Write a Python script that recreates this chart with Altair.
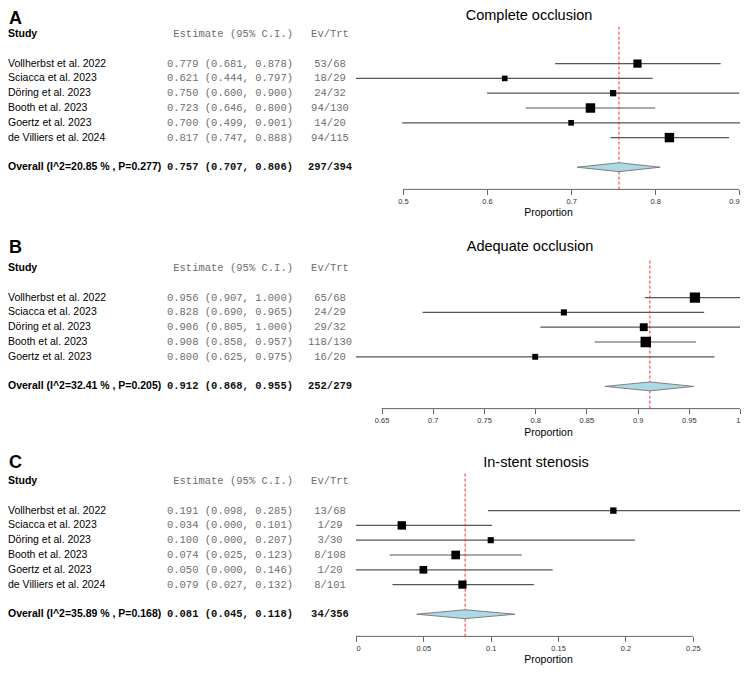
import altair as alt
import pandas as pd

# ---------------- data ----------------
studies_A = ["Vollherbst et al. 2022", "Sciacca et al. 2023", "Döring et al. 2023",
             "Booth et al. 2023", "Goertz et al. 2023", "de Villiers et al. 2024"]
est_A = [0.779, 0.621, 0.750, 0.723, 0.700, 0.817]
lo_A = [0.681, 0.444, 0.600, 0.646, 0.499, 0.747]
hi_A = [0.878, 0.797, 0.900, 0.800, 0.901, 0.888]
ev_A = ["53/68", "18/29", "24/32", "94/130", "14/20", "94/115"]
w_A = [19.3, 9.2, 11.4, 25.5, 9.2, 25.4]
overall_A = ["Overall (I^2=20.85 % , P=0.277)", 0.757, 0.707, 0.806, "297/394"]
ticks_A = [0.5, 0.6, 0.7, 0.8, 0.9]

studies_B = ["Vollherbst et al. 2022", "Sciacca et al. 2023", "Döring et al. 2023",
             "Booth et al. 2023", "Goertz et al. 2023"]
est_B = [0.956, 0.828, 0.906, 0.908, 0.800]
lo_B = [0.907, 0.690, 0.805, 0.858, 0.625]
hi_B = [1.000, 0.965, 1.000, 0.957, 0.975]
ev_B = ["65/68", "24/29", "29/32", "118/130", "16/20"]
w_B = [30.0, 10.7, 17.8, 31.6, 9.9]
overall_B = ["Overall (I^2=32.41 % , P=0.205)", 0.912, 0.868, 0.955, "252/279"]
ticks_B = [0.65, 0.7, 0.75, 0.8, 0.85, 0.9, 0.95, 1.0]

studies_C = ["Vollherbst et al. 2022", "Sciacca et al. 2023", "Döring et al. 2023",
             "Booth et al. 2023", "Goertz et al. 2023", "de Villiers et al. 2024"]
est_C = [0.191, 0.034, 0.100, 0.074, 0.050, 0.079]
lo_C = [0.098, 0.000, 0.000, 0.025, 0.000, 0.027]
hi_C = [0.285, 0.101, 0.207, 0.123, 0.146, 0.132]
ev_C = ["13/68", "1/29", "3/30", "8/108", "1/20", "8/101"]
w_C = [11.6, 20.3, 10.7, 21.4, 16.8, 19.2]
overall_C = ["Overall (I^2=35.89 % , P=0.168)", 0.081, 0.045, 0.118, "34/356"]
ticks_C = [0.0, 0.05, 0.1, 0.15, 0.2, 0.25]

letters = ["A", "B", "C"]
titles = ["Complete occlusion", "Adequate occlusion", "In-stent stenosis"]

# ---------------- style / layout ----------------
SANS = "Liberation Sans"
MONO = "Liberation Mono"
GREY_TXT = "#6e6e6e"
ROW = 14.8        # px per row
W = 384           # plot width
X_STUDY, X_EST, X_EV = -348, -63, -26
DIAMOND_HALF = 0.3


def panel(letter, title, studies, est, lo, hi, ev, w, overall, ticks,
          title_x, title_dy, letter_dy, smax):
    n = len(studies)
    ov_label, ov_est, ov_lo, ov_hi, ov_ev = overall
    ov_row = n + 3
    axis_row = ov_row + 1.5
    H = axis_row * ROW

    df = pd.DataFrame(dict(study=studies, est=est, lo=lo, hi=hi, ev=ev, w=w,
                           row=[i + 2 for i in range(n)]))
    df["ci"] = [f"{e:.3f} ({l:.3f}, {h:.3f})" for e, l, h in zip(est, lo, hi)]

    ov = pd.DataFrame(dict(study=[ov_label], ev=[ov_ev], row=[ov_row],
                           ci=[f"{ov_est:.3f} ({ov_lo:.3f}, {ov_hi:.3f})"]))
    hdr = pd.DataFrame(dict(study=["Study"], ci=["Estimate (95% C.I.)"],
                            ev=["Ev/Trt"], row=[0]))
    dia = pd.DataFrame(dict(x=[ov_lo, ov_est, ov_hi],
                            y1=[ov_row, ov_row - DIAMOND_HALF, ov_row],
                            y2=[ov_row, ov_row + DIAMOND_HALF, ov_row]))
    ref = pd.DataFrame(dict(x=[ov_est], y1=[-0.5], y2=[axis_row]))
    axl = pd.DataFrame(dict(x1=[ticks[0]], x2=[ticks[-1]], y=[axis_row]))
    lab = pd.DataFrame(dict(letter=[letter], title=[title]))

    xmin = min(lo + [ov_lo] + ticks)
    xmax = max(hi + [ov_hi] + ticks)
    xs = alt.Scale(domain=[xmin, xmax], nice=False, zero=False)
    ys = alt.Scale(domain=[0, axis_row], reverse=True, nice=False, zero=False)
    ax = alt.Axis(values=ticks, format="~g", title="Proportion", domain=False,
                  grid=False)

    def X(f):
        return alt.X(f, scale=xs, axis=ax)

    def Y(f):
        return alt.Y(f, scale=ys, axis=None)

    base = alt.Chart(df)
    ci = base.mark_rule(color="#555555", strokeWidth=1.2).encode(
        x=X("lo:Q"), x2="hi:Q", y=Y("row:Q"))
    sq = base.mark_square(color="black", opacity=1).encode(
        x=X("est:Q"), y=Y("row:Q"),
        size=alt.Size("w:Q", scale=alt.Scale(domain=[0, max(w)], range=[0, smax ** 2]),
                      legend=None),
    )
    diamond = alt.Chart(dia).mark_area(fill="#add8e6", stroke="#808080",
                                       strokeWidth=1, opacity=1,
                                       orient="vertical").encode(
        x=X("x:Q"), y=Y("y1:Q"), y2="y2:Q")
    dash = alt.Chart(ref).mark_rule(color="#ff2a2a", strokeDash=[3, 2],
                                    strokeWidth=1).encode(
        x=X("x:Q"), y=Y("y1:Q"), y2="y2:Q")
    axline = alt.Chart(axl).mark_rule(color="#666666", strokeWidth=1).encode(
        x=X("x1:Q"), x2="x2:Q", y=Y("y:Q"))

    def txt(data, field, xpos, align, font, weight, color):
        return alt.Chart(data).mark_text(
            align=align, baseline="middle", font=font, fontSize=10.5,
            fontWeight=weight, color=color).encode(
            x=alt.value(xpos), y=Y("row:Q"), text=f"{field}:N")

    layers = [
        axline, ci, dash, diamond, sq,
        txt(df, "study", X_STUDY, "left", SANS, "normal", "black"),
        txt(df, "ci", X_EST, "right", MONO, "normal", GREY_TXT),
        txt(df, "ev", X_EV, "center", MONO, "normal", GREY_TXT),
        txt(ov, "study", X_STUDY, "left", SANS, "bold", "black"),
        txt(ov, "ci", X_EST, "right", MONO, "bold", "#111111"),
        txt(ov, "ev", X_EV, "center", MONO, "bold", "#111111"),
        txt(hdr, "study", X_STUDY, "left", SANS, "bold", "black"),
        txt(hdr, "ci", X_EST, "right", MONO, "normal", GREY_TXT),
        txt(hdr, "ev", X_EV, "center", MONO, "normal", GREY_TXT),
    ]

    lb = alt.Chart(lab)
    t_letter = lb.mark_text(align="left", baseline="middle", font=SANS, fontSize=18,
                            fontWeight="bold", color="black").encode(
        x=alt.value(X_STUDY + 1), y=alt.value(letter_dy), text="letter:N")
    t_title = lb.mark_text(align="center", baseline="middle", font=SANS,
                           fontSize=14.5, color="black").encode(
        x=alt.value(title_x), y=alt.value(title_dy), text="title:N")

    return alt.layer(*layers, t_letter, t_title).properties(width=W, height=H)


pA = panel(letters[0], titles[0], studies_A, est_A, lo_A, hi_A, ev_A, w_A, overall_A,
           ticks_A, 173, -18, -15, 10.5)
pB = panel(letters[1], titles[1], studies_B, est_B, lo_B, hi_B, ev_B, w_B, overall_B,
           ticks_B, 174, -21, -20, 12.5)
pC = panel(letters[2], titles[2], studies_C, est_C, lo_C, hi_C, ev_C, w_C, overall_C,
           ticks_C, 180, -18, -18, 11.8)

chart = alt.vconcat(pA, alt.vconcat(pB, pC, spacing=16), spacing=20).properties(
    padding={"left": 0, "top": 0, "right": 0, "bottom": 0}
).configure_view(
    stroke=None
).configure_axisX(
    labelFont=SANS, labelFontSize=7.5, labelColor="#333333",
    tickColor="#666666", tickSize=5, tickWidth=1, labelPadding=3,
    titleFont=SANS, titleFontSize=10.5, titleFontWeight="normal",
    titleColor="black", titlePadding=3,
)

chart.save("out.html", embed_options={"renderer": "svg", "actions": False})
